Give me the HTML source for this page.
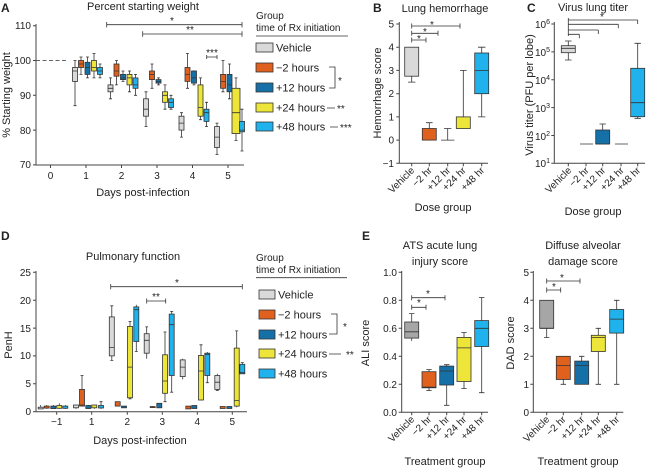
<!DOCTYPE html>
<html><head><meta charset="utf-8"><style>
html,body{margin:0;padding:0;background:#fff}
svg{display:block;font-family:"Liberation Sans",sans-serif;fill:#222}
.w{stroke:#333;stroke-width:.8;fill:none}
.ax{stroke:#444;stroke-width:1;fill:none}
rect{stroke:#333;stroke-width:.8}
.V{fill:#d9d9d9}.O{fill:#e0601e}.D{fill:#1670a8}.Y{fill:#ede53a}.L{fill:#1fb2ec}.G{fill:#a6a6a6}
text{font-size:10px}
.t{font-size:11px}
.b{font-size:12px;font-weight:bold}
</style></head><body>
<svg width="650" height="469" viewBox="0 0 650 469">
<!-- ================= A ================= -->
<text x="1" y="12" class="b">A</text>
<text x="143" y="10" class="t" text-anchor="middle">Percent starting weight</text>
<path class="ax" d="M36,24V165H244M33,25.7h3M33,60.5h3M33,95.3h3M33,130.1h3M33,164.9h3M50.5,165v3M86,165v3M121.5,165v3M157,165v3M192.5,165v3M228,165v3"/>
<g text-anchor="end"><text x="31" y="29">110</text><text x="31" y="64">100</text><text x="31" y="99">90</text><text x="31" y="134">80</text><text x="31" y="168">70</text></g>
<g text-anchor="middle"><text x="50.5" y="179">0</text><text x="86" y="179">1</text><text x="121.5" y="179">2</text><text x="157" y="179">3</text><text x="192.5" y="179">4</text><text x="228" y="179">5</text>
<text x="143" y="196" class="t">Days post-infection</text></g>
<text transform="translate(10,95) rotate(-90)" text-anchor="middle" class="t">% Starting weight</text>
<path d="M36,60.5H68" stroke="#333" stroke-width=".8" stroke-dasharray="4,2.5"/>
<path class="w" d="M106.7,24.7H242M106.7,22v5.4M242,22v5.4M142.7,34H242M142.7,31.3v5.4M242,31.3v5.4M206.7,57H217M206.7,55v4M217,55v4"/>
<g text-anchor="middle"><text x="172" y="24">*</text><text x="190" y="33">**</text><text x="212" y="56">***</text></g>
<!-- day1 -->
<path class="w" d="M75,105.7V60.5M73.5,105.7h3M73.5,60.5h3M81,74.4V57M79.5,74.4h3M79.5,57h3M87.5,77.9V57M86,77.9h3M86,57h3M94,77.9V53.5M92.5,77.9h3M92.5,53.5h3M100,77.9V64M98.5,77.9h3M98.5,64h3"/>
<rect class="V" x="72.5" y="67.5" width="5" height="13.9"/><rect class="O" x="78.5" y="60.5" width="5" height="7"/><rect class="D" x="85" y="62.3" width="5" height="12.1"/><rect class="Y" x="91.5" y="60.5" width="5" height="10.5"/><rect class="L" x="97.5" y="67.5" width="5" height="6.9"/>
<path class="w" d="M72.5,71h5M78.5,64h5M85,67.5h5M91.5,67.5h5M97.5,71h5"/>
<!-- day2 -->
<path class="w" d="M110.5,98.8V77.9M109,98.8h3M109,77.9h3M116.5,84.9V60.5M115,84.9h3M115,60.5h3M123,81.4V71M121.5,81.4h3M121.5,71h3M129.5,91.8V71M128,91.8h3M128,71h3M135.5,95.3V74.4M134,95.3h3M134,74.4h3"/>
<rect class="V" x="108" y="84.9" width="5" height="6.9"/><rect class="O" x="114" y="64" width="5" height="12.2"/><rect class="D" x="120.5" y="74.4" width="5" height="5.2"/><rect class="Y" x="127" y="74.4" width="5" height="10.5"/><rect class="L" x="133" y="77.9" width="5" height="10.4"/>
<path class="w" d="M108,88.3h5M114,71h5M120.5,77.9h5M127,77.9h5M133,84.9h5"/>
<!-- day3 -->
<path class="w" d="M146,126.6V91.8M144.5,126.6h3M144.5,91.8h3M152,88.3V64M150.5,88.3h3M150.5,64h3M158.5,84.9V77.9M157,84.9h3M157,77.9h3M165,109.2V84.9M163.5,109.2h3M163.5,84.9h3M171,109.2V95.3M169.5,109.2h3M169.5,95.3h3"/>
<rect class="V" x="143.5" y="98.8" width="5" height="17.4"/><rect class="O" x="149.5" y="71" width="5" height="8.6"/><rect class="D" x="156" y="79.6" width="5" height="3.5"/><rect class="Y" x="162.5" y="91.8" width="5" height="10.5"/><rect class="L" x="168.5" y="98.8" width="5" height="8.7"/>
<path class="w" d="M143.5,109.2h5M149.5,74.4h5M156,81.4h5M162.5,95.3h5M168.5,102.3h5"/>
<!-- day4 -->
<path class="w" d="M181.5,137.1V112.7M180,137.1h3M180,112.7h3M187.5,88.3V53.5M186,88.3h3M186,53.5h3M194,84.9V71M192.5,84.9h3M192.5,71h3M200.5,119.7V77.9M199,119.7h3M199,77.9h3M206.5,126.6V102.3M205,126.6h3M205,102.3h3"/>
<rect class="V" x="179" y="116.2" width="5" height="13.9"/><rect class="O" x="185" y="67.5" width="5" height="13.9"/><rect class="D" x="191.5" y="71" width="5" height="12.1"/><rect class="Y" x="198" y="84.9" width="5" height="31.3"/><rect class="L" x="204" y="109.2" width="5" height="12.2"/>
<path class="w" d="M179,123.1h5M185,74.4h5M191.5,77.9h5M198,107.5h5M204,112.7h5"/>
<!-- day5 -->
<path class="w" d="M217,154.5V123.1M215.5,154.5h3M215.5,123.1h3M223,91.8V60.5M221.5,91.8h3M221.5,60.5h3M229.5,98.8V64M228,98.8h3M228,64h3M236,140.5V77.9M234.5,140.5h3M234.5,77.9h3M242,151V109.2M240.5,151h3M240.5,109.2h3"/>
<rect class="V" x="214.5" y="126.6" width="5" height="20.9"/><rect class="O" x="220.5" y="74.4" width="5" height="13.9"/><rect class="D" x="227" y="74.4" width="5" height="17.4"/><rect class="Y" x="232" y="88.3" width="8" height="45.3"/><rect class="L" x="239.5" y="121.4" width="5" height="10.4"/>
<path class="w" d="M214.5,137.1h5M220.5,81.4h5M227,84.9h5M232,112.7h8M239.5,130.1h5"/>
<!-- legend A -->
<text x="256" y="19">Group</text><text x="256" y="31">time of Rx initiation</text>
<path class="w" d="M256,36H348"/>
<rect class="V" x="256" y="43" width="17" height="9"/><text x="276" y="51.5" class="t">Vehicle</text>
<rect class="O" x="256" y="63" width="17" height="9"/><text x="276" y="71.5" class="t">−2 hours</text>
<rect class="D" x="256" y="83" width="17" height="9"/><text x="276" y="91.5" class="t">+12 hours</text>
<rect class="Y" x="256" y="103" width="17" height="9"/><text x="276" y="111.5" class="t">+24 hours</text>
<rect class="L" x="256" y="122" width="17" height="9"/><text x="276" y="130.5" class="t">+48 hours</text>
<path class="w" d="M329,67H335V88H329M327,108H335M330,127H338"/>
<text x="338" y="84">*</text><text x="337" y="112">**</text><text x="340" y="131">***</text>
<!-- ================= B ================= -->
<text x="373" y="12" class="b">B</text>
<text x="445" y="12" class="t" text-anchor="middle">Lung hemorrhage</text>
<path class="ax" d="M399.3,22V163.3H488M396.3,24h3M396.3,47.2h3M396.3,70.4h3M396.3,93.7h3M396.3,116.9h3M396.3,140.1h3M396.3,163.3h3M411.7,163.3v3M429.3,163.3v3M447.7,163.3v3M463.3,163.3v3M481.7,163.3v3"/>
<g text-anchor="end"><text x="394" y="27.5">5</text><text x="394" y="50.7">4</text><text x="394" y="73.9">3</text><text x="394" y="97.2">2</text><text x="394" y="120.4">1</text><text x="394" y="143.6">0</text><text x="394" y="166.8">−1</text></g>
<text transform="translate(381,93) rotate(-90)" text-anchor="middle" class="t">Hemorrhage score</text>
<g text-anchor="end"><text transform="translate(415,171) rotate(-45)">Vehicle</text><text transform="translate(432.5,171) rotate(-45)">−2 hr</text><text transform="translate(451,171) rotate(-45)">+12 hr</text><text transform="translate(466.5,171) rotate(-45)">+24 hr</text><text transform="translate(485,171) rotate(-45)">+48 hr</text></g>
<text x="443" y="211" class="t" text-anchor="middle">Dose group</text>
<path class="w" d="M411.7,82.1V47.2M408,82.1h7.4M429.3,122.7V140.1M426,122.7h6.6M447.7,128.5V140.1M444,128.5h7.4M441,140.1h13.4M463.3,116.9V70.4M460,70.4h6.6M481.7,116.9V47.2M478,116.9h7.4M478,47.2h7.4"/>
<rect class="V" x="404.7" y="47.2" width="14" height="29"/><rect class="O" x="422.3" y="128.5" width="14" height="11.6"/><rect class="Y" x="456.3" y="116.9" width="14" height="11.6" style="fill:#ede53a"/><rect class="L" x="474.7" y="53" width="14" height="40.7"/>
<path class="w" d="M474.7,70.4h14M411.7,40H426M411.7,37.5v5M426,37.5v5M411.7,33.3H438M411.7,30.8v5M438,30.8v5M411.7,26H460M411.7,23.5v5M460,23.5v5"/>
<g text-anchor="middle"><text x="419" y="42">*</text><text x="425" y="35">*</text><text x="432" y="28">*</text></g>
<!-- ================= C ================= -->
<text x="527" y="12" class="b">C</text>
<text x="593" y="11" class="t" text-anchor="middle">Virus lung titer</text>
<path class="ax" d="M554.3,22V163.3H645M551.3,24h3M551.3,51.9h3M551.3,79.7h3M551.3,107.6h3M551.3,135.5h3M551.3,163.3h3M568.3,163.3v3M586,163.3v3M602.7,163.3v3M621,163.3v3M637.7,163.3v3"/>
<g text-anchor="end"><text x="550" y="28">10<tspan dy="-4" font-size="7">6</tspan></text><text x="550" y="56">10<tspan dy="-4" font-size="7">5</tspan></text><text x="550" y="84">10<tspan dy="-4" font-size="7">4</tspan></text><text x="550" y="112">10<tspan dy="-4" font-size="7">3</tspan></text><text x="550" y="140">10<tspan dy="-4" font-size="7">2</tspan></text><text x="550" y="167">10<tspan dy="-4" font-size="7">1</tspan></text></g>
<text transform="translate(533,95) rotate(-90)" text-anchor="middle" class="t">Virus titer (PFU per lobe)</text>
<g text-anchor="end"><text transform="translate(572,171) rotate(-45)">Vehicle</text><text transform="translate(589.5,171) rotate(-45)">−2 hr</text><text transform="translate(606,171) rotate(-45)">+12 hr</text><text transform="translate(624.5,171) rotate(-45)">+24 hr</text><text transform="translate(641,171) rotate(-45)">+48 hr</text></g>
<text x="593" y="215" class="t" text-anchor="middle">Dose group</text>
<path class="w" d="M568.3,41V60M565,41h6.6M565,60h6.6M580,144H593M596,144H609M602.7,130V124M599.5,124h6.4M615,144H628M637.7,68.3V43.3M634.5,43.3h6.4M637.7,116.7V118.3M634.5,118.3h6.4"/>
<rect class="V" x="561.3" y="45.7" width="14" height="7"/><rect class="D" x="595.7" y="130" width="14" height="14"/><rect class="L" x="630.7" y="68.3" width="14" height="48.4"/>
<path class="w" d="M561.3,48.3h14M630.7,102.7h14M568.3,20H637.7M637.7,20v4M568.3,24.3H618.3M618.3,24.3v4M568.3,30H598.3M598.3,30v4M568.3,34.3H579.3M579.3,34.3v4M568.3,18V36"/>
<text x="602" y="20" text-anchor="middle">*</text>
<!-- ================= D ================= -->
<text x="1" y="240" class="b">D</text>
<text x="133" y="260" class="t" text-anchor="middle">Pulmonary function</text>
<path class="ax" d="M36,271V411.7H247M33,272.3h3M33,300.2h3M33,328.1h3M33,355.9h3M33,383.8h3M33,411.7h3M56.7,411.7v3M91.7,411.7v3M127.3,411.7v3M162.3,411.7v3M197.3,411.7v3M232.3,411.7v3"/>
<g text-anchor="end"><text x="31" y="276">25</text><text x="31" y="304">20</text><text x="31" y="332">15</text><text x="31" y="359">10</text><text x="31" y="387">5</text><text x="31" y="415">0</text></g>
<g text-anchor="middle"><text x="56.7" y="425">−1</text><text x="91.7" y="425">1</text><text x="127.3" y="425">2</text><text x="162.3" y="425">3</text><text x="197.3" y="425">4</text><text x="232.3" y="425">5</text>
<text x="140" y="444" class="t">Days post-infection</text></g>
<text transform="translate(12,345) rotate(-90)" text-anchor="middle" class="t">PenH</text>
<path class="w" d="M110.7,286.7H242.3M110.7,284v5.4M242.3,284v5.4M146.7,301H165.7M146.7,298.5v5M165.7,298.5v5"/>
<g text-anchor="middle"><text x="177" y="286">*</text><text x="156" y="300">**</text></g>
<!-- day -1 & small ones -->
<path class="w" d="M40.7,408.9V405M46.7,408.9V405M53.3,408.9V405M59.3,408.9V403.3M65.3,408.9V405M76,408.9V405M88.3,408.9V405M94.3,408.9V405M101,408.9V401.7M99.5,401.7h3"/>
<rect class="V" x="38.2" y="407.2" width="5" height="1.7"/><rect class="O" x="44.2" y="406.1" width="5" height="2"/><rect class="D" x="50.8" y="406.1" width="5" height="2.5"/><rect class="Y" x="56.8" y="405.5" width="5" height="2.8"/><rect class="L" x="62.8" y="406.1" width="5" height="2.2"/>
<rect class="V" x="73.5" y="405" width="5" height="2.8"/><rect class="D" x="85.8" y="405.5" width="5" height="3"/><rect class="Y" x="91.8" y="405" width="5" height="2.8"/><rect class="L" x="98.5" y="405.5" width="5" height="2.5"/>
<!-- day1 orange -->
<path class="w" d="M82,405V375.5M80.5,375.5h3"/>
<rect class="O" x="79.5" y="389.4" width="5" height="16.7"/><path class="w" d="M79.5,405h5"/>
<!-- day2 -->
<path class="w" d="M111.8,360.4V305.8M110.3,360.4h3M110.3,305.8h3M130,398.9V321.4M128.5,398.9h3M128.5,321.4h3M136.3,351.5V304.7M134.8,351.5h3"/>
<rect class="V" x="109.3" y="316.9" width="5" height="39"/><rect class="O" x="115.2" y="401.7" width="5" height="4.4"/><rect class="D" x="121.5" y="406.1" width="5" height="1.7"/><rect class="Y" x="127.5" y="326.4" width="5" height="71.4"/><rect class="L" x="133.8" y="306.9" width="5" height="34.6"/>
<path class="w" d="M109.3,347.6h5M127.5,367.1h5M133.8,309.7h5"/>
<!-- day3 -->
<path class="w" d="M146.7,358.7V326.9M145.2,326.9h3M165,401.7V332M163.5,401.7h3M163.5,332h3M171.7,392.2V311.4M170.2,392.2h3M170.2,311.4h3M152.7,408V406"/>
<rect class="V" x="144.2" y="333.7" width="5" height="19.5"/><rect class="O" x="150.2" y="406.6" width="5" height="1"/><rect class="D" x="156.8" y="403.3" width="5" height="4.5"/><rect class="Y" x="162.5" y="354.8" width="5" height="38.5"/><rect class="L" x="169.2" y="314.1" width="5" height="61.4"/>
<path class="w" d="M144.2,340.3h5M162.5,381h5M169.2,324.7h5"/>
<!-- day4 -->
<path class="w" d="M182.7,379.4V358.7M201,400.5V344.8M199.5,344.8h3M207.3,382.7V352M205.8,382.7h3"/>
<rect class="V" x="180.2" y="359.9" width="5" height="16.7"/><rect class="O" x="185.8" y="406.1" width="5" height="2.8"/><rect class="D" x="191.8" y="405.5" width="5" height="3"/><rect class="Y" x="198.5" y="355.4" width="5" height="44.6"/><rect class="L" x="204.8" y="353.2" width="5" height="22.3"/>
<path class="w" d="M180.2,367.1h5M198.5,371h5M204.8,354.3h5"/>
<!-- day5 -->
<path class="w" d="M217.3,390.5V373.8M215.8,390.5h3M236.7,407.2V330.9M235.2,330.9h3M242.3,373.8V362.6M240.8,362.6h3"/>
<rect class="V" x="214.8" y="375.5" width="5" height="13.9"/><rect class="O" x="220.2" y="406.5" width="5" height="2"/><rect class="D" x="226.8" y="406.5" width="5" height="2"/><rect class="Y" x="234.2" y="348.1" width="5" height="58"/><rect class="L" x="239.8" y="364.3" width="5" height="9.5"/>
<path class="w" d="M214.8,382.2h5M234.2,400.5h5M239.8,372.7h5"/>
<!-- legend D -->
<text x="256" y="261">Group</text><text x="256" y="273">time of Rx initiation</text>
<path class="w" d="M256,277.7H347"/>
<rect class="V" x="259" y="290" width="16" height="9"/><text x="278" y="298.5" class="t">Vehicle</text>
<rect class="O" x="259" y="310" width="16" height="9"/><text x="278" y="318.5" class="t">−2 hours</text>
<rect class="D" x="259" y="330" width="16" height="9"/><text x="278" y="338.5" class="t">+12 hours</text>
<rect class="Y" x="259" y="349" width="16" height="9"/><text x="278" y="357.5" class="t">+24 hours</text>
<rect class="L" x="259" y="369" width="16" height="9"/><text x="278" y="377.5" class="t">+48 hours</text>
<path class="w" d="M331,314H337V334H329M329,354H341"/>
<text x="343" y="330">*</text><text x="346" y="358">**</text>
<!-- ================= E ================= -->
<text x="362" y="240" class="b">E</text>
<g text-anchor="middle" class="t"><text x="440" y="249" class="t">ATS acute lung</text><text x="440" y="265" class="t">injury score</text>
<text x="583" y="249" class="t">Diffuse alveolar</text><text x="583" y="265" class="t">damage score</text>
<text x="445" y="465" class="t">Treatment group</text><text x="578" y="465" class="t">Treatment group</text></g>
<path class="ax" d="M401.7,271V412.3H488M398.7,272.3h3M398.7,300.3h3M398.7,328.3h3M398.7,356.3h3M398.7,384.3h3M398.7,412.3h3M411.7,412.3v3M429,412.3v3M446.7,412.3v3M464,412.3v3M481.7,412.3v3"/>
<g text-anchor="end"><text x="397" y="276">1.0</text><text x="397" y="304">0.8</text><text x="397" y="332">0.6</text><text x="397" y="360">0.4</text><text x="397" y="388">0.2</text><text x="397" y="416">0.0</text></g>
<text transform="translate(369,343) rotate(-90)" text-anchor="middle" class="t">ALI score</text>
<g text-anchor="end"><text transform="translate(415,420) rotate(-45)">Vehicle</text><text transform="translate(432,420) rotate(-45)">−2 hr</text><text transform="translate(450,420) rotate(-45)">+12 hr</text><text transform="translate(467,420) rotate(-45)">+24 hr</text><text transform="translate(485,420) rotate(-45)">+48 hr</text></g>
<path class="w" d="M411.7,340.9V313.6M409,313.6h5.4M429,390.6V369.6M426.3,390.6h5.4M426.3,369.6h5.4M446.7,405.3V364.7M444,405.3h5.4M444,364.7h5.4M464,388.5V332.5M461.3,388.5h5.4M461.3,332.5h5.4M481.7,392.7V297.5M479,392.7h5.4M479,297.5h5.4"/>
<rect class="G" x="404.7" y="322" width="14" height="16.1"/><rect class="O" x="422" y="371.7" width="14" height="16.1"/><rect class="D" x="439.7" y="366.1" width="14" height="18.9"/><rect class="Y" x="457" y="337.4" width="14" height="44.1"/><rect class="L" x="474.7" y="320.6" width="14" height="25.9"/>
<path class="w" d="M404.7,331.8h14M422,387.1h14M439.7,371h14M457,347.9h14M474.7,328.3h14"/>
<path class="w" d="M411.7,297.7H445M411.7,295.2v5M445,295.2v5M411.7,307.3H426M411.7,304.8v5M426,304.8v5"/>
<g text-anchor="middle"><text x="428" y="297">*</text><text x="419" y="306">*</text></g>
<path class="ax" d="M533.3,271V412.3H623.3M530.3,272.3h3M530.3,300.3h3M530.3,328.3h3M530.3,356.3h3M530.3,384.3h3M530.3,412.3h3M546.7,412.3v3M563.3,412.3v3M581.7,412.3v3M598.3,412.3v3M616.7,412.3v3"/>
<g text-anchor="end"><text x="529" y="276">5</text><text x="529" y="304">4</text><text x="529" y="332">3</text><text x="529" y="360">2</text><text x="529" y="388">1</text><text x="529" y="416">0</text></g>
<text transform="translate(514,343) rotate(-90)" text-anchor="middle" class="t">DAD score</text>
<g text-anchor="end"><text transform="translate(550,420) rotate(-45)">Vehicle</text><text transform="translate(566.5,420) rotate(-45)">−2 hr</text><text transform="translate(585,420) rotate(-45)">+12 hr</text><text transform="translate(601.5,420) rotate(-45)">+24 hr</text><text transform="translate(620,420) rotate(-45)">+48 hr</text></g>
<path class="w" d="M546.7,337.5V328.3M544,337.5h5.4M563.3,384.3V379.5M560.6,384.3h5.4M581.7,356.3V361.1M579,356.3h5.4M598.3,384.3V351.5M595.6,384.3h5.4M595.6,328.3h5.4M598.3,335.3V328.3M616.7,384.3V333.1M614,384.3h5.4M614,300.3h5.4M616.7,309.5V300.3"/>
<rect class="G" x="539.7" y="300.3" width="14" height="28"/><rect class="O" x="556.3" y="356.3" width="14" height="23.2"/><rect class="D" x="574.7" y="361.1" width="14" height="23.2"/><rect class="Y" x="591.3" y="335.3" width="14" height="16.2"/><rect class="L" x="609.7" y="309.5" width="14" height="23.6"/>
<path class="w" d="M539.7,328.3h14M556.3,365.5h14M574.7,365.5h14M591.3,337.5h14M609.7,319.1h14"/>
<path class="w" d="M546.7,281H580M546.7,278.5v5M580,278.5v5M546.7,290H560.7M546.7,287.5v5M560.7,287.5v5"/>
<g text-anchor="middle"><text x="562" y="281">*</text><text x="554" y="290">*</text></g>
</svg>
</body></html>
